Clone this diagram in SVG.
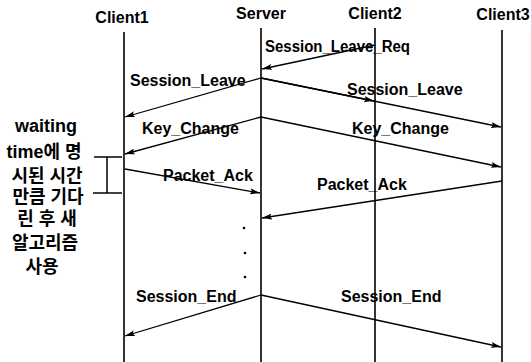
<svg xmlns="http://www.w3.org/2000/svg" width="531" height="362" viewBox="0 0 531 362">
  <style>
    .life { stroke: #000; stroke-width: 1.6; fill: none; }
    .msg { stroke: #000; stroke-width: 1.3; fill: none; marker-end: url(#head); }
    .hdr { font-family: "Liberation Sans", Arial, sans-serif; font-size: 16px; font-weight: bold; fill: #000; text-anchor: middle; }
    .lbl { font-family: "Liberation Sans", Arial, sans-serif; font-size: 16px; font-weight: bold; fill: #000; }
    .note { font-family: "Liberation Sans", "Noto Sans CJK KR", sans-serif; font-size: 18px; font-weight: bold; fill: #000; text-anchor: middle; }
    .brk { stroke: #000; stroke-width: 1.5; fill: none; }
  </style>
  <defs>
    <marker id="head" viewBox="0 0 10 6" refX="10" refY="3" markerWidth="10" markerHeight="6" markerUnits="userSpaceOnUse" orient="auto">
      <path d="M0,0 L10,3 L0,6 L2,3 Z" fill="#000"/>
    </marker>
  </defs>

  <!-- participants with their lifelines -->
  <g id="client1">
    <text class="hdr" x="122" y="23">Client1</text>
    <line class="life" x1="124" y1="32" x2="124" y2="362"/>
  </g>
  <g id="server">
    <text class="hdr" x="261" y="19">Server</text>
    <line class="life" x1="261" y1="28" x2="261" y2="362"/>
  </g>
  <g id="client2">
    <text class="hdr" x="375" y="19">Client2</text>
    <line class="life" x1="375" y1="28" x2="375" y2="362"/>
  </g>
  <g id="client3">
    <text class="hdr" x="503" y="20">Client3</text>
    <line class="life" x1="502" y1="30" x2="502" y2="362"/>
  </g>

  <!-- messages -->
  <g id="connectors">
    <line class="msg" x1="375" y1="45" x2="262" y2="69"/>
    <line class="msg" x1="261" y1="78" x2="125" y2="117"/>
    <line class="msg" x1="261" y1="78" x2="374" y2="101"/>
    <line class="msg" x1="261" y1="78" x2="501" y2="127"/>
    <line class="msg" x1="261" y1="117" x2="125" y2="154"/>
    <line class="msg" x1="261" y1="117" x2="501" y2="167"/>
    <line class="msg" x1="125" y1="169" x2="260" y2="193"/>
    <line class="msg" x1="502" y1="181" x2="262" y2="218"/>
    <line class="msg" x1="261" y1="295" x2="125" y2="336"/>
    <line class="msg" x1="261" y1="295" x2="501" y2="347"/>
  </g>

  <!-- message labels -->
  <g id="labels">
    <text class="lbl" x="265" y="52" textLength="145" lengthAdjust="spacingAndGlyphs">Session_Leave_Req</text>
    <text class="lbl" x="130" y="86">Session_Leave</text>
    <text class="lbl" x="347" y="95">Session_Leave</text>
    <text class="lbl" x="142" y="134">Key_Change</text>
    <text class="lbl" x="352" y="134">Key_Change</text>
    <text class="lbl" x="163" y="181">Packet_Ack</text>
    <text class="lbl" x="317" y="190">Packet_Ack</text>
    <text class="lbl" x="136" y="302">Session_End</text>
    <text class="lbl" x="341" y="302">Session_End</text>
  </g>

  <!-- ellipsis on the server lifeline -->
  <g id="ellipsis" fill="#000">
    <circle cx="244" cy="228" r="1.3"/>
    <circle cx="245" cy="253" r="1.3"/>
    <circle cx="245" cy="277" r="1.3"/>
  </g>

  <!-- waiting-time note with bracket -->
  <g id="note">
    <text class="note" x="46" y="132">waiting</text>
    <text class="note" x="44" y="158">time에 명</text>
    <text class="note" x="47" y="182">시된 시간</text>
    <text class="note" x="48" y="203">만큼 기다</text>
    <text class="note" x="47" y="225">린 후 새</text>
    <text class="note" x="45" y="249">알고리즘</text>
    <text class="note" x="42" y="273">사용</text>
    <path class="brk" d="M94,157 H122 M107,157 V193 M93,193 H122"/>
  </g>
</svg>
